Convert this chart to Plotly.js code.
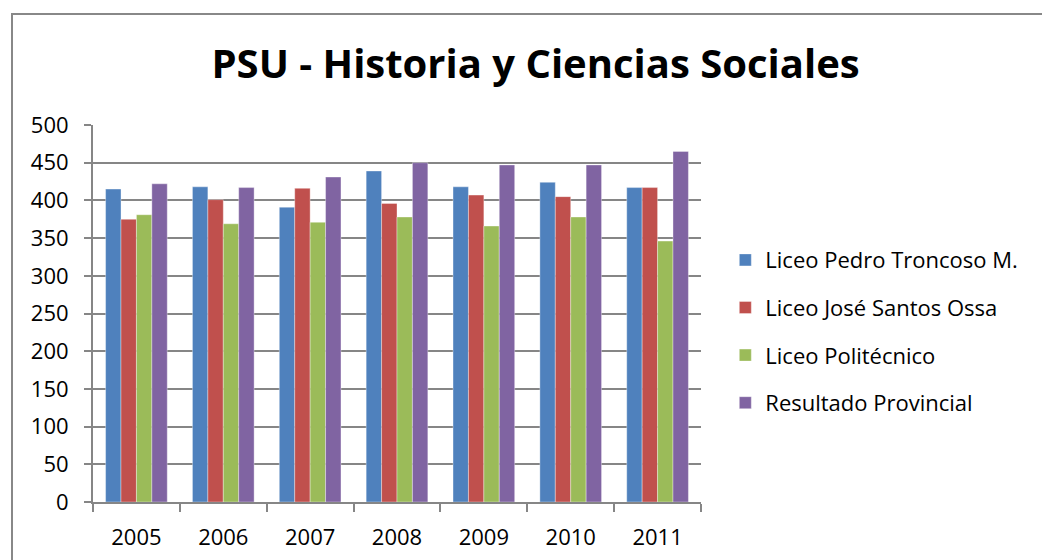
<!DOCTYPE html>
<html>
<head>
<meta charset="utf-8">
<script src="https://cdn.plot.ly/plotly-3.0.1.min.js"></script>
<style>
    body { margin: 0; overflow: hidden; background: #fff; }
    #graph-container { width: 1042px; height: 560px; }
    #frame {
        position: absolute; left: 11px; top: 13px;
        width: 2000px; height: 2000px;
        border: 2px solid #888888; pointer-events: none;
    }
</style>
</head>
<body>
<div id="graph-container"></div>
<div id="frame"></div>
<script>
// Years on the x axis
let years = ['2005', '2006', '2007', '2008', '2009', '2010', '2011'];

// PSU scores per school
let pedroTroncoso = [415, 418, 391, 439, 418, 424, 417];
let joseSantosOssa = [375, 401, 416, 396, 407, 405, 417];
let politecnico = [381, 369, 371, 378, 366, 378, 346];
let provincial = [422, 417, 431, 450, 447, 447, 465];

let seriesNames = ['Liceo Pedro Troncoso M.', 'Liceo José Santos Ossa', 'Liceo Politécnico', 'Resultado Provincial'];
let seriesValues = [pedroTroncoso, joseSantosOssa, politecnico, provincial];
let seriesColors = ['#4F81BD', '#C0504D', '#9BBB59', '#8064A2'];

var data = seriesValues.map(function (values, i) {
    return {
        x: years,
        y: values,
        type: 'bar',
        name: seriesNames[i],
        legendgroup: 'g' + i,
        marker: { color: seriesColors[i], line: { color: 'rgba(255,255,255,0.6)', width: 0.6 } }
    };
});

var fontFamily = '"Open Sans", "Noto Sans", sans-serif';

var layout = {
    width: 1042,
    height: 560,
    margin: { l: 93, r: 341, t: 125, b: 58 },
    paper_bgcolor: '#ffffff',
    plot_bgcolor: '#ffffff',
    font: { family: fontFamily, color: '#000000', size: 22 },
    title: {
        text: '<b>PSU - Historia y Ciencias Sociales</b>',
        font: { family: fontFamily, size: 40, color: '#000000' },
        x: 0.514, xanchor: 'center',
        y: 0.886, yanchor: 'middle'
    },
    barmode: 'group',
    bargap: 0.29,
    bargroupgap: 0,
    xaxis: {
        type: 'category',
        showline: true,
        linecolor: '#868686',
        linewidth: 2,
        ticks: 'outside',
        tickson: 'boundaries',
        ticklen: 8,
        tickwidth: 2,
        tickcolor: '#868686',
        ticklabelstandoff: 15,
        tickfont: { size: 22, color: '#000000' },
        showgrid: false,
        zeroline: false
    },
    yaxis: {
        range: [0, 500],
        dtick: 50,
        showline: true,
        linecolor: '#868686',
        linewidth: 2,
        ticks: 'outside',
        ticklen: 7,
        tickwidth: 2,
        tickcolor: '#868686',
        ticklabelstandoff: 11,
        tickfont: { size: 22, color: '#000000' },
        showgrid: true,
        gridcolor: '#868686',
        gridwidth: 2,
        zeroline: false
    },
    showlegend: true,
    legend: {
        x: 1.04, xanchor: 'left',
        y: 0.452, yanchor: 'middle',
        traceorder: 'grouped',
        tracegroupgap: 16,
        font: { size: 22, color: '#000000' },
        bgcolor: 'rgba(0,0,0,0)'
    }
};

Plotly.newPlot('graph-container', data, layout, { displayModeBar: false, staticPlot: true });
</script>
</body>
</html>
